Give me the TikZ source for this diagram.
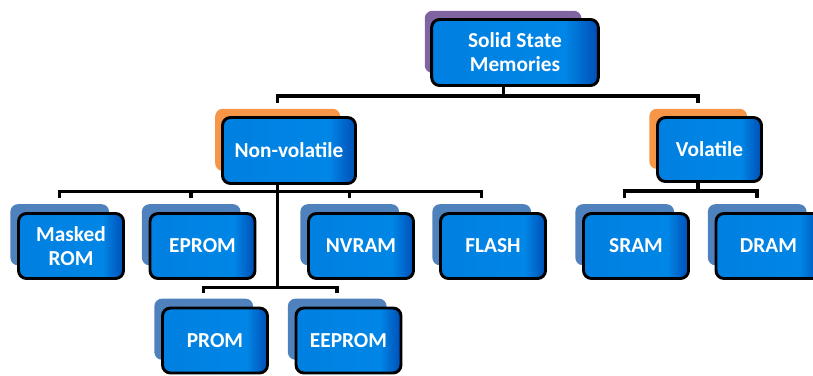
\documentclass[tikz,border=0pt]{standalone}
\usepackage{fontspec}
\setmainfont{Carlito}
\usetikzlibrary{shadows}

\definecolor{boxblue}{RGB}{0,124,222}
\definecolor{boxlight}{RGB}{0,134,230}
\definecolor{boxdark}{RGB}{0,78,182}
\definecolor{rootshadow}{RGB}{128,100,162}
\definecolor{kindshadow}{RGB}{247,150,70}
\definecolor{leafshadow}{RGB}{79,129,189}

% blue face that darkens towards the right edge
\pgfdeclarehorizontalshading{memface}{100bp}{color(0bp)=(boxblue); color(65bp)=(boxlight); color(75bp)=(boxdark); color(100bp)=(boxdark)}

\newcommand{\dx}{-8.6pt}

\begin{document}
\begin{tikzpicture}[x=0.75pt,y=-0.75pt,
    mem/.style={draw=black,line width=2.2pt,rounded corners=6pt,shading=memface,
        text=white,font=\bfseries\fontsize{16}{18}\selectfont,align=center,inner sep=0pt},
    rootmem/.style={mem,minimum width=125pt,minimum height=49.5pt,
        general shadow={fill=rootshadow,shadow xshift=-9.5pt,shadow yshift=8.5pt,shadow scale=0.94}},
    kindmem/.style={mem,minimum height=49.5pt,
        general shadow={fill=kindshadow,shadow xshift=-9pt,shadow yshift=8.5pt,shadow scale=0.94}},
    leafmem/.style={mem,minimum width=78.75pt,minimum height=48.75pt,
        general shadow={fill=leafshadow,shadow xshift=-9pt,shadow yshift=9pt,shadow scale=0.94}},
    link/.style={line width=2.6pt}]
\useasboundingbox (0,0) rectangle (813,375);

% top level
\node[rootmem] (ssm) at (515,52.5) {Solid State\\Memories};

% kinds
\node[kindmem,minimum width=99.75pt] (nonvol) at (289,150.5) {Non-volatile};
\node[kindmem,minimum width=78pt,minimum height=48pt] (vol) at (709.5,149.5) {Volatile};

% non-volatile types
\node[leafmem] (mrom) at (71,246) {Masked\\ROM};
\node[leafmem] (eprom) at (202.5,246) {EPROM};
\node[leafmem] (nvram) at (361,246) {NVRAM};
\node[leafmem] (flash) at (493,246) {FLASH};
\node[leafmem] (prom) at (215,340.5) {PROM};
\node[leafmem] (eeprom) at (348.5,340.5) {EEPROM};

% volatile types
\node[leafmem] (sram) at (636,246) {SRAM};
\node[leafmem] (dram) at (768.5,246) {DRAM};

% tree lines
\draw[link] ([xshift=\dx]ssm.south) -- ++(0,9) coordinate (topbar)
    -| ([xshift=\dx,yshift=9.75pt]nonvol.north);
\draw[link] (topbar) -| ([xshift=\dx,yshift=9.75pt]vol.north);

\draw[link] ([xshift=\dx]nonvol.south) -- ++(0,6.5) coordinate (nvbar)
    -| ([xshift=\dx,yshift=10.5pt]mrom.north);
\draw[link] (nvbar) -| ([xshift=\dx,yshift=10.5pt]flash.north);
\draw[link] ([xshift=\dx,yshift=10.5pt]eprom.north) -- ++(0,-6.5);
\draw[link] ([xshift=\dx,yshift=10.5pt]nvram.north) -- ++(0,-6.5);
\draw[link] (nvbar) -- ++(0,96) coordinate (prombar)
    -| ([xshift=\dx,yshift=10.5pt]prom.north);
\draw[link] (prombar) -| ([xshift=\dx,yshift=10.5pt]eeprom.north);

\draw[link] ([xshift=\dx]vol.south) -- ++(0,8) coordinate (volbar)
    -| ([xshift=\dx,yshift=10.5pt]sram.north);
\draw[link] (volbar) -| ([xshift=\dx,yshift=10.5pt]dram.north);
\end{tikzpicture}
\end{document}
